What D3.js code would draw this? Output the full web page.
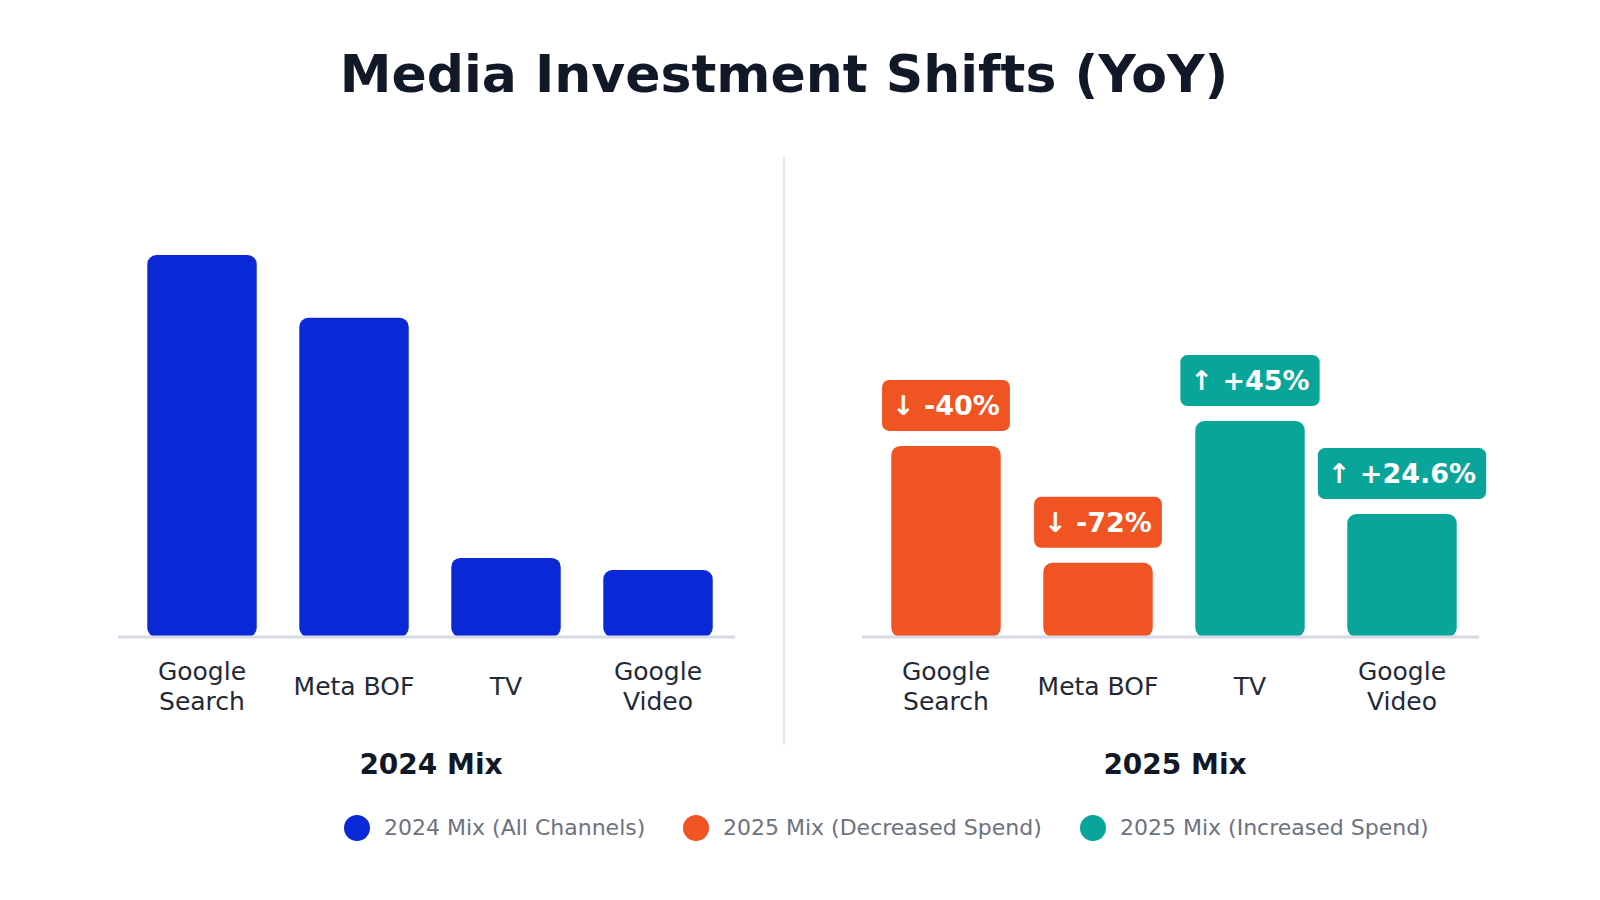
<!DOCTYPE html>
<html><head><meta charset="utf-8">
<script src="https://cdn.jsdelivr.net/npm/d3@7"></script>
<style>body{margin:0;background:#fff}text{font-family:"DejaVu Sans",sans-serif}</style>
</head><body><svg width="1600" height="900"></svg>
<script>
var categories = ["Google Search", "Meta BOF", "TV", "Google Video"];
var mix2024 = [100, 83.5, 20.5, 17.3];
var mix2025 = [49.9, 19.2, 56.4, 32];
var changes = ["↓ -40%", "↓ -72%", "↑ +45%", "↑ +24.6%"];
var legendLabels = ["2024 Mix (All Channels)", "2025 Mix (Decreased Spend)", "2025 Mix (Increased Spend)"];

var blue = "#0a28d6", orange = "#f05423", teal = "#0aa59a";
var svg = d3.select("svg");

svg.append("text").attr("x", 784).attr("y", 92).attr("text-anchor", "middle")
    .style("font-size", "52px").style("font-weight", "bold").attr("fill", "#111827")
    .text("Media Investment Shifts (YoY)");

svg.append("line").attr("x1", 784).attr("x2", 784).attr("y1", 157).attr("y2", 745)
    .attr("stroke", "#e5e7eb").attr("stroke-width", 2);

var yScale = d3.scaleLinear().domain([0, 100]).range([636, 255]);

function panel(x0, values, title, colorOf, badges) {
    var x = d3.scaleBand().domain(categories).range([x0 + 8, x0 + 616]);
    var g = svg.append("g");
    var bw = x.bandwidth() * 0.72;
    g.selectAll(".bar").data(values).enter().append("rect")
        .attr("x", (d, i) => x(categories[i]) + (x.bandwidth() - bw) / 2)
        .attr("y", d => yScale(d))
        .attr("width", bw)
        .attr("height", d => yScale(0) - yScale(d) + 1)
        .attr("rx", 9)
        .attr("fill", (d, i) => colorOf(i));
    g.append("line").attr("x1", x0).attr("x2", x0 + 617).attr("y1", 637).attr("y2", 637)
        .attr("stroke", "#d8d9e6").attr("stroke-width", 3);
    categories.forEach(function (c, i) {
        var cx = x(c) + x.bandwidth() / 2;
        var words = c.split(" ");
        var lines = (c === "Meta BOF") ? [c] : words;
        var t = g.append("text").attr("text-anchor", "middle").attr("fill", "#1f2937")
            .style("font-size", "25px");
        lines.forEach(function (w, j) {
            t.append("tspan").attr("x", cx)
                .attr("y", lines.length === 1 ? 695 : 680 + j * 30).text(w);
        });
        if (badges) {
            var top = yScale(values[i]);
            var bg = g.append("g");
            var txt = bg.append("text").attr("x", cx).attr("y", top - 31).attr("text-anchor", "middle")
                .attr("fill", "#fff").style("font-size", "27px").style("font-weight", "bold").text(badges[i]);
            var w = txt.node().getComputedTextLength() + 20;
            bg.insert("rect", "text").attr("x", cx - w / 2).attr("y", top - 66).attr("width", w).attr("height", 51)
                .attr("rx", 7).attr("fill", colorOf(i));
        }
    });
    svg.append("text").attr("x", x0 + 313).attr("y", 774).attr("text-anchor", "middle")
        .style("font-size", "28px").style("font-weight", "bold").attr("fill", "#111827").text(title);
}

panel(118, mix2024, "2024 Mix", () => blue, null);
panel(862, mix2025, "2025 Mix", i => (i < 2 ? orange : teal), changes);

var legendX = [357, 696, 1093], legendColors = [blue, orange, teal];
legendLabels.forEach(function (l, i) {
    svg.append("circle").attr("cx", legendX[i]).attr("cy", 828).attr("r", 13).attr("fill", legendColors[i]);
    svg.append("text").attr("x", legendX[i] + 27).attr("y", 835).style("font-size", "22px")
        .attr("fill", "#6b7280").text(l);
});
</script></body></html>
